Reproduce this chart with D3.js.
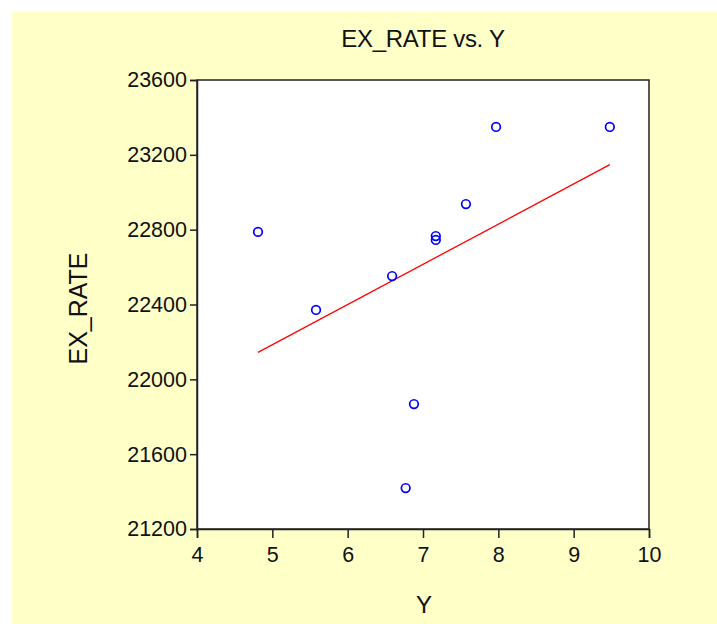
<!DOCTYPE html>
<html><head><meta charset="utf-8">
<script src="https://cdn.jsdelivr.net/npm/d3@7"></script>
<style>
html,body{margin:0;padding:0;background:#fff;}
svg text{font-family:"Liberation Sans",Arial,sans-serif;fill:#111;}
</style></head>
<body>
<svg id="c" width="717" height="624"></svg>
<script>
const title = "EX_RATE vs. Y";
const xLabel = "Y";
const yLabel = "EX_RATE";
const yValues = [4.81, 5.58, 6.59, 6.77, 6.88, 7.17, 7.17, 7.57, 7.97, 9.48];
const exRate = [22788, 22371, 22552, 21419, 21868, 22745, 22766, 22937, 23349, 23349];
const xTicks = [4, 5, 6, 7, 8, 9, 10];
const yTicks = [21200, 21600, 22000, 22400, 22800, 23200, 23600];

const svg = d3.select("#c");
svg.append("rect").attr("x", 12).attr("y", 12).attr("width", 705).attr("height", 612).attr("fill", "#ffffc8");

const L = 197, R = 649, T = 80, B = 529;
const x = d3.scaleLinear().domain([4, 10]).range([L, R]);
const y = d3.scaleLinear().domain([21200, 23600]).range([B, T]);

svg.append("rect").attr("x", L).attr("y", T).attr("width", R - L).attr("height", B - T)
  .attr("fill", "#fff").attr("stroke", "#222").attr("stroke-width", 1.5);

const xa = svg.append("g").attr("transform", `translate(0,${B})`)
  .call(d3.axisBottom(x).tickValues(xTicks).tickFormat(d3.format("d")).tickSize(9).tickPadding(9));
const ya = svg.append("g").attr("transform", `translate(${L},0)`)
  .call(d3.axisLeft(y).tickValues(yTicks).tickFormat(d3.format("d")).tickSize(7).tickPadding(3));
[xa, ya].forEach(g => {
  g.select(".domain").attr("stroke", "#222").attr("stroke-width", 1.5);
  g.selectAll(".tick line").attr("stroke", "#222").attr("stroke-width", 1.5);
  g.selectAll(".tick text").attr("font-size", 21.5).attr("fill", "#111")
    .style("font-family", '"Liberation Sans",Arial,sans-serif');
});

// OLS fit line
const mx = d3.mean(yValues), my = d3.mean(exRate);
let sxy = 0, sxx = 0;
yValues.forEach((v, i) => { sxy += (v - mx) * (exRate[i] - my); sxx += (v - mx) * (v - mx); });
const b = sxy / sxx, a = my - b * mx;
const x0 = d3.min(yValues), x1 = d3.max(yValues);
svg.append("line").attr("x1", x(x0)).attr("y1", y(a + b * x0)).attr("x2", x(x1)).attr("y2", y(a + b * x1))
  .attr("stroke", "#ff0000").attr("stroke-width", 1.3);

svg.append("g").selectAll("circle").data(yValues).join("circle")
  .attr("cx", d => x(d)).attr("cy", (d, i) => y(exRate[i])).attr("r", 4.3)
  .attr("fill", "none").attr("stroke", "#0000ff").attr("stroke-width", 1.7);

svg.append("text").attr("x", 423).attr("y", 47).attr("text-anchor", "middle")
  .attr("font-size", 24).attr("letter-spacing", -0.3).text(title);
svg.append("text").attr("x", 424).attr("y", 613).attr("text-anchor", "middle")
  .attr("font-size", 24).text(xLabel);
svg.append("text").attr("transform", `translate(87,${(T + B) / 2 + 4}) rotate(-90)`).attr("text-anchor", "middle")
  .attr("font-size", 25).text(yLabel);
</script>
</body></html>
